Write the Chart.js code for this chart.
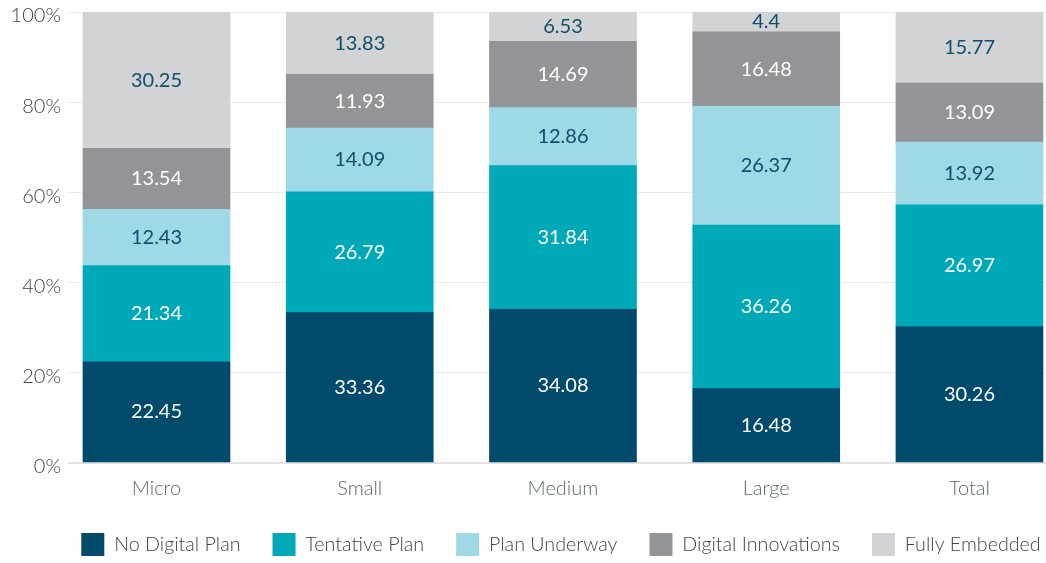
<!DOCTYPE html>
<html>
<head>
<meta charset="utf-8">
<script src="https://cdn.jsdelivr.net/npm/chart.js@4/dist/chart.umd.min.js"></script>
<style>
    html, body { margin: 0; padding: 0; background: #fff; }
    #wrap { width: 1046px; height: 563px; }
</style>
</head>
<body>
<div id="wrap"><canvas id="chart" width="1046" height="563"></canvas></div>
<script>
const categories = ['Micro', 'Small', 'Medium', 'Large', 'Total'];
const noDigitalPlan = [22.45, 33.36, 34.08, 16.48, 30.26];
const tentativePlan = [21.34, 26.79, 31.84, 36.26, 26.97];
const planUnderway = [12.43, 14.09, 12.86, 26.37, 13.92];
const digitalInnovations = [13.54, 11.93, 14.69, 16.48, 13.09];
const fullyEmbedded = [30.25, 13.83, 6.53, 4.4, 15.77];
const yTicks = [0, 20, 40, 60, 80, 100];

const FONT = 'Lato, "Open Sans", sans-serif';

// bar colour, label colour
const series = [
    { label: 'No Digital Plan', values: noDigitalPlan, color: '#004b6b', text: '#ffffff' },
    { label: 'Tentative Plan', values: tentativePlan, color: '#00a9b7', text: '#ffffff' },
    { label: 'Plan Underway', values: planUnderway, color: '#9fd9e5', text: '#104e6c' },
    { label: 'Digital Innovations', values: digitalInnovations, color: '#929497', text: '#ffffff' },
    { label: 'Fully Embedded', values: fullyEmbedded, color: '#d1d3d4', text: '#104e6c' }
];

// labels in the middle of each segment
const valueLabels = {
    id: 'valueLabels',
    afterDatasetsDraw(chart) {
        const ctx = chart.ctx;
        ctx.save();
        ctx.font = '400 20px ' + FONT;
        ctx.textAlign = 'center';
        ctx.textBaseline = 'middle';
        chart.data.datasets.forEach((ds, i) => {
            const meta = chart.getDatasetMeta(i);
            ctx.fillStyle = series[i].text;
            meta.data.forEach((bar, j) => {
                const y = Math.max((bar.y + bar.base) / 2, chart.chartArea.top + 10);
                ctx.fillText(String(ds.data[j].y), bar.x, y);
            });
        });
        ctx.restore();
    }
};

// legend sits centred under the plot, not the whole canvas
const legendShift = {
    id: 'legendShift',
    afterLayout(chart) {
        const shift = (chart.chartArea.left + chart.chartArea.right) / 2 - chart.width / 2 + 4;
        chart.legend.left += shift;
        chart.legend.right += shift;
    }
};

new Chart(document.getElementById('chart'), {
    type: 'bar',
    data: {
        datasets: series.map(s => ({
            label: s.label,
            data: s.values.map((v, i) => ({ x: i, y: v })),
            backgroundColor: s.color,
            borderWidth: 0,
            barThickness: 147
        }))
    },
    options: {
        responsive: false,
        animation: false,
        layout: { padding: { top: 0, right: 0, bottom: -3, left: 0 } },
        scales: {
            x: {
                type: 'linear',
                stacked: true,
                offset: false,
                min: -0.4354,
                max: 4.3766,
                afterBuildTicks: scale => { scale.ticks = categories.map((c, i) => ({ value: i })); },
                afterFit: scale => { scale.height = 38; },
                grid: { display: false },
                border: { display: false },
                ticks: {
                    padding: 8,
                    color: '#5b6b69',
                    font: { family: FONT, size: 20, weight: 300, lineHeight: 1 },
                    callback: v => categories[v]
                }
            },
            y: {
                stacked: true,
                min: 0,
                max: 100,
                afterBuildTicks: scale => { scale.ticks = yTicks.map(v => ({ value: v })); },
                afterFit: scale => {
                    scale.width = 68;
                    scale.paddingTop = 12;
                    scale.paddingBottom = 0;
                },
                border: { display: false },
                grid: {
                    drawTicks: false,
                    color: ctx => ctx.tick && ctx.tick.value === 0 ? '#e2e2e2' : '#ebebeb',
                    lineWidth: ctx => ctx.tick && ctx.tick.value === 0 ? 2 : 1
                },
                ticks: {
                    padding: 7,
                    labelOffset: 4,
                    color: '#444444',
                    font: { family: FONT, size: 20, weight: 300 },
                    callback: v => v + '%'
                }
            }
        },
        plugins: {
            legend: {
                position: 'bottom',
                labels: {
                    boxWidth: 23,
                    boxHeight: 23,
                    padding: 32,
                    color: '#444444',
                    font: { family: FONT, size: 19.7, weight: 300 }
                }
            },
            tooltip: { enabled: false }
        }
    },
    plugins: [valueLabels, legendShift]
});
</script>
</body>
</html>
